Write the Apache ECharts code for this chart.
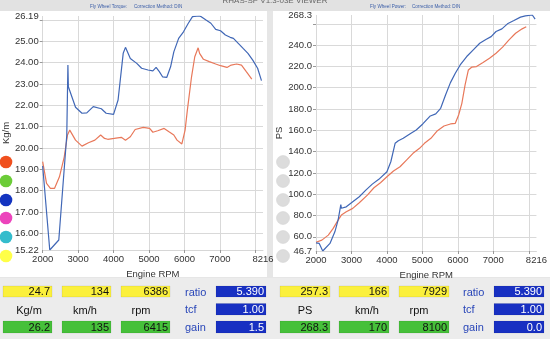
<!DOCTYPE html>
<html>
<head>
<meta charset="utf-8">
<script src="https://cdn.jsdelivr.net/npm/echarts@6/dist/echarts.min.js"></script>
<style>
html,body{margin:0;padding:0;background:#e6e6e6;}
#c{width:550px;height:339px;}
</style>
</head>
<body>
<div id="c"></div>
<script>
// ---- data ----
var torqueBlueRpm = [2000,2200,2455,2680,2712,2725,2927,3109,3245,3427,3655,3791,4000,4127,4272,4336,4473,4655,4791,4973,5109,5200,5291,5382,5500,5609,5700,5836,5973,6109,6227,6415,6473,6609,6745,6882,7018,7155,7291,7382,7518,7655,7791,7927,8064,8173];
var torqueBlueVal = [19.16,15.22,15.69,20.6,23.89,22.87,21.91,21.63,21.65,21.94,21.84,21.63,21.58,22.25,24.44,24.72,24.20,23.97,23.74,23.66,23.62,23.78,23.58,23.34,23.31,23.81,24.51,25.14,25.45,25.85,26.16,26.19,26.16,26.0,25.85,25.56,25.5,25.3,25.19,25.14,24.91,24.67,24.44,24.12,23.74,23.16];

var torqueOrangeRpm = [2000,2109,2218,2336,2473,2609,2700,2764,2927,3109,3291,3473,3636,3745,3836,4018,4218,4336,4473,4609,4836,5018,5109,5245,5427,5564,5700,5791,5927,6018,6082,6200,6291,6386,6427,6536,6700,6882,7018,7200,7318,7473,7609,7745,7900];
var torqueOrangeVal = [19.36,18.34,18.11,18.11,18.65,19.59,20.61,20.84,20.37,20.09,20.25,20.37,20.61,20.45,20.41,20.45,20.5,20.37,20.53,20.87,20.97,20.92,20.74,20.81,20.92,20.76,20.61,20.37,20.19,20.84,21.78,23.34,24.28,24.7,24.44,24.16,24.05,23.94,23.86,23.78,23.89,23.94,23.89,23.58,23.23];

var powerBlueRpm = [2000,2091,2190,2394,2532,2623,2700,2716,2854,3036,3220,3405,3587,3771,4000,4110,4231,4322,4460,4645,4826,5011,5223,5377,5515,5653,5791,5928,6066,6250,6435,6617,6802,6939,7077,7242,7399,7581,7766,7904,8100,8179];
var powerBlueVal = [54.4,53.8,46.7,53.8,64.7,75.7,90.2,86.8,88.2,92.9,97.6,103.9,109.5,114,121.1,130.5,147.8,150.3,152.5,156.6,160.3,166,173.5,175.4,180.7,193.2,204.8,213.6,221.4,229.3,235.6,241.8,245.6,248,252.8,255.3,260,263.1,266.3,267.5,268.3,264.4];

var powerOrangeRpm = [2000,2165,2347,2485,2623,2716,2854,3036,3220,3449,3634,3818,4000,4185,4369,4551,4736,4920,5058,5240,5424,5609,5791,5928,6022,6113,6204,6297,6388,6526,6710,6893,7077,7262,7443,7628,7813,7929];
var powerOrangeVal = [54.9,56.9,61.6,67.9,75.7,80.4,83.5,86.7,92,99.2,106.1,110.8,116.4,121.8,125.8,132.1,138.4,143.1,147.8,152.5,159.7,164.1,166,166.6,174.4,185.4,202.6,216.7,219.3,219.9,223.6,227.7,232.4,238.1,244.9,251.2,255.3,257.3];

var rpmLabels = [2000,3000,4000,5000,6000,7000,8216];
var rpmTicks = [2000,3000,4000,5000,6000,7000,8000];
var torqueLabels = [15.22,16,17,18,19,20,21,22,23,24,25,26.19];
var torqueTicks = [16,17,18,19,20,21,22,23,24,25,26];
var powerLabels = [46.7,60,80,100,120,140,160,180,200,220,240,268.3];
var powerTicks = [60,80,100,120,140,160,180,200,220,240,260];

var paramNames = ['ratio','tcf','gain'];
var leftTopVals = ['24.7','134','6386'];
var leftUnits = ['Kg/m','km/h','rpm'];
var leftBottomVals = ['26.2','135','6415'];
var leftParams = ['5.390','1.00','1.5'];
var rightTopVals = ['257.3','166','7929'];
var rightUnits = ['PS','km/h','rpm'];
var rightBottomVals = ['268.3','170','8100'];
var rightParams = ['5.390','1.00','0.0'];

// ---- styling ----
var FONT = '"Liberation Sans", Arial, sans-serif';
var BLUE = '#4067b6', ORANGE = '#e8785a';

function zip(a,b){ return a.map(function(v,i){ return [v,b[i]]; }); }

function xAxisCfg(gi){
  return {
    type:'value', gridIndex:gi, min:2000, max:8216,
    name:'Engine RPM', nameLocation:'middle', nameGap:16,
    nameTextStyle:{fontFamily:FONT,fontSize:9.5,color:'#333'},
    axisLine:{show:true,lineStyle:{color:'#d6d6d6'}},
    axisTick:{show:true,customValues:rpmTicks,length:3,lineStyle:{color:'#999'}},
    axisLabel:{customValues:rpmLabels,fontFamily:FONT,fontSize:9.5,color:'#333',margin:4,
      formatter:function(v){ return String(Math.round(v)); }},
    splitLine:{show:true,lineStyle:{color:'#d9d9d9',width:1}}
  };
}
function yAxisCfg(gi,min,max,labels,ticks,name,gap,dec){
  return {
    type:'value', gridIndex:gi, min:min, max:max,
    name:name, nameLocation:'middle', nameGap:gap,
    nameTextStyle:{fontFamily:FONT,fontSize:9.5,color:'#333'},
    axisLine:{show:false},
    axisTick:{show:true,customValues:ticks,length:3,lineStyle:{color:'#999'}},
    axisLabel:{customValues:labels,fontFamily:FONT,fontSize:9.5,color:'#333',margin:4,
      formatter:function(v){ return Number(v).toFixed(dec); }},
    splitLine:{show:true,lineStyle:{color:'#d9d9d9',width:1}}
  };
}

var graphics = [];
// panels
graphics.push({type:'rect',z:-10,shape:{x:0,y:0,width:550,height:11},style:{fill:'#e2e2e2'}});
graphics.push({type:'rect',z:-10,shape:{x:0,y:11,width:267,height:266},style:{fill:'#ffffff'}});
graphics.push({type:'rect',z:-10,shape:{x:273,y:11,width:277,height:266},style:{fill:'#ffffff'}});
graphics.push({type:'rect',z:-10,shape:{x:0,y:278,width:550,height:61},style:{fill:'#ececec'}});
// header texts
graphics.push({type:'text',x:275,y:-3,style:{text:'RHAS-SP V1.3-03E VIEWER',fontFamily:FONT,fontSize:8,fill:'#666',align:'center',verticalAlign:'top'}});
graphics.push({type:'text',x:90,y:4.5,style:{text:'Fly Wheel Torque:',fontFamily:FONT,fontSize:4.6,fill:'#3b5ea8',verticalAlign:'top'}});
graphics.push({type:'text',x:134,y:4.5,style:{text:'Correction Method: DIN',fontFamily:FONT,fontSize:4.6,fill:'#3b5ea8',verticalAlign:'top'}});
graphics.push({type:'text',x:370,y:4.5,style:{text:'Fly Wheel Power:',fontFamily:FONT,fontSize:4.6,fill:'#3b5ea8',verticalAlign:'top'}});
graphics.push({type:'text',x:412,y:4.5,style:{text:'Correction Method: DIN',fontFamily:FONT,fontSize:4.6,fill:'#3b5ea8',verticalAlign:'top'}});
// circles
var circleY = [162,181,200,218,237,256];
var circleCols = ['#f0501e','#6ccc38','#1434c0','#ec44bc','#34bccc','#ffff48'];
circleY.forEach(function(cy,i){
  graphics.push({type:'circle',z:5,shape:{cx:6,cy:cy,r:6.3},style:{fill:circleCols[i]}});
  graphics.push({type:'circle',z:5,shape:{cx:283,cy:cy,r:6.5},style:{fill:'#dcdcdc',stroke:'#cfcfcf',lineWidth:0.5}});
});
// table
function box(x,y,w,h,fill,txt,txtCol){
  graphics.push({type:'rect',shape:{x:x,y:y,width:w,height:h},style:{fill:fill,stroke:'rgba(0,0,0,0.12)',lineWidth:0.6}});
  graphics.push({type:'text',x:x+w-2,y:y+h/2+0.5,style:{text:txt,fontFamily:FONT,fontSize:11,fill:txtCol,align:'right',verticalAlign:'middle'}});
}
function label(x,y,txt,col,align){
  graphics.push({type:'text',x:x,y:y,style:{text:txt,fontFamily:FONT,fontSize:11,fill:col,align:align||'center',verticalAlign:'middle'}});
}
function table(boxX,w,paramLabelX,blueX,unitX,top,units,bottom,params){
  for(var i=0;i<3;i++){
    box(boxX[i],286,w,11,'#fbf03c',top[i],'#111');
    label(unitX[i],310.5,units[i],'#111');
    box(boxX[i],321,w,12,'#46c03a',bottom[i],'#111');
  }
  var rowsY=[286,303.5,321], rowsH=[11,11.5,12];
  for(var j=0;j<3;j++){
    label(paramLabelX,rowsY[j]+rowsH[j]/2+1,paramNames[j],'#2946b8','left');
    box(blueX,rowsY[j],50,rowsH[j],'#1830c2',params[j],'#ffffff');
  }
}
table([3,62,121],49,185,216,[29,85,141],leftTopVals,leftUnits,leftBottomVals,leftParams);
table([280,339,399],50,463,494,[305,367,419],rightTopVals,rightUnits,rightBottomVals,rightParams);

var option = {
  animation:false,
  backgroundColor:'#e6e6e6',
  grid:[
    {left:36,top:16,width:227,height:234,show:false},
    {left:316,top:15,width:225,height:236,show:false}
  ],
  xAxis:[xAxisCfg(0),xAxisCfg(1)],
  yAxis:[
    yAxisCfg(0,15.22,26.19,torqueLabels,torqueTicks,'Kg/m',25,2),
    yAxisCfg(1,46.7,268.3,powerLabels,powerTicks,'PS',27,1)
  ],
  series:[
    {type:'line',xAxisIndex:0,yAxisIndex:0,data:zip(torqueOrangeRpm,torqueOrangeVal),showSymbol:false,symbol:'none',lineStyle:{width:1.2,color:ORANGE},color:ORANGE},
    {type:'line',xAxisIndex:0,yAxisIndex:0,data:zip(torqueBlueRpm,torqueBlueVal),showSymbol:false,symbol:'none',lineStyle:{width:1.2,color:BLUE},color:BLUE},
    {type:'line',xAxisIndex:1,yAxisIndex:1,data:zip(powerOrangeRpm,powerOrangeVal),showSymbol:false,symbol:'none',lineStyle:{width:1.2,color:ORANGE},color:ORANGE},
    {type:'line',xAxisIndex:1,yAxisIndex:1,data:zip(powerBlueRpm,powerBlueVal),showSymbol:false,symbol:'none',lineStyle:{width:1.2,color:BLUE},color:BLUE}
  ],
  graphic:graphics
};
var chart = echarts.init(document.getElementById('c'));
chart.setOption(option);
</script>
</body>
</html>
